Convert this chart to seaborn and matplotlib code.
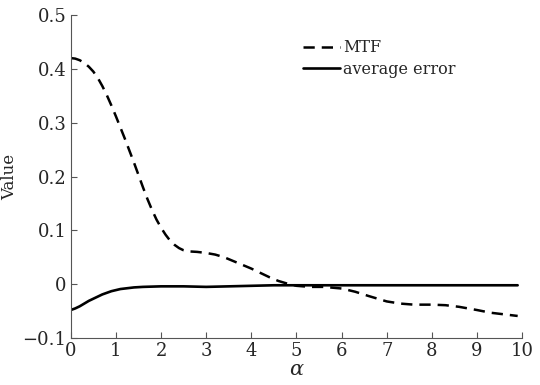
import matplotlib
matplotlib.use("Agg")
import matplotlib.pyplot as plt
import seaborn as sns

alpha_mtf = [0.0, 0.1, 0.2, 0.3, 0.4, 0.5, 0.6, 0.7, 0.8, 0.9, 1.0, 1.1, 1.2, 1.3, 1.4, 1.5,
             1.6, 1.7, 1.8, 1.9, 2.0, 2.1, 2.2, 2.3, 2.4, 2.5, 2.6, 2.8, 3.0, 3.2, 3.4,
             3.6, 3.8, 4.0, 4.2, 4.4, 4.6, 4.8, 5.0, 5.3, 5.6, 6.0, 6.3, 6.6, 7.0, 7.3,
             7.6, 8.0, 8.3, 8.6, 9.0, 9.3, 9.6, 9.9]
mtf = [0.420, 0.419, 0.416, 0.411, 0.404, 0.395, 0.383, 0.368, 0.351, 0.332, 0.312, 0.291,
       0.270, 0.248, 0.226, 0.203, 0.180, 0.158, 0.138, 0.120, 0.105, 0.092, 0.081, 0.073,
       0.067, 0.063, 0.061, 0.060, 0.058, 0.055, 0.050, 0.043, 0.036, 0.029, 0.021, 0.013,
       0.006, 0.001, -0.003, -0.005, -0.005, -0.008, -0.014, -0.022, -0.032, -0.036,
       -0.038, -0.038, -0.039, -0.042, -0.048, -0.053, -0.056, -0.059]

alpha_err = [0.0, 0.1, 0.2, 0.3, 0.4, 0.5, 0.6, 0.7, 0.8, 0.9, 1.0, 1.1, 1.2, 1.4, 1.6,
             1.8, 2.0, 2.5, 3.0, 3.5, 4.0, 4.5, 5.0, 6.0, 7.0, 8.0, 9.0, 9.9]
avg_err = [-0.048, -0.045, -0.041, -0.036, -0.031, -0.027, -0.023, -0.019, -0.016, -0.013,
           -0.011, -0.009, -0.008, -0.006, -0.005, -0.0045, -0.004, -0.004, -0.005, -0.004,
           -0.003, -0.002, -0.002, -0.002, -0.002, -0.002, -0.002, -0.002]

sns.set_style("ticks")
plt.rcParams["font.family"] = ["DejaVu Serif"]
plt.rcParams["mathtext.fontset"] = "dejavuserif"

fig = plt.figure(figsize=(5.4, 3.85), dpi=100)
ax = fig.add_axes([0.131, 0.122, 0.836, 0.839])

sns.lineplot(x=alpha_mtf, y=mtf, ax=ax, color="black", linewidth=1.8,
             linestyle=(0, (4.5, 2.8)), label="MTF")
sns.lineplot(x=alpha_err, y=avg_err, ax=ax, color="black", linewidth=1.9,
             label="average error")

ax.set_xlim(0, 10)
ax.set_ylim(-0.1, 0.5)
ax.set_xticks(range(0, 11))
ax.set_yticks([-0.1, 0, 0.1, 0.2, 0.3, 0.4, 0.5])
ax.set_yticklabels(["\u22120.1", "0", "0.1", "0.2", "0.3", "0.4", "0.5"])
ax.tick_params(direction="in", length=4, width=0.8, color="#555555", labelsize=13, pad=3)
for s in ["top", "right"]:
    ax.spines[s].set_visible(False)
for s in ["left", "bottom"]:
    ax.spines[s].set_color("#555555")
    ax.spines[s].set_linewidth(0.8)

ax.set_xlabel(r"$\alpha$", fontsize=15, labelpad=0)
ax.set_ylabel("Value", fontsize=12, labelpad=3)

leg = ax.legend(loc="upper left", bbox_to_anchor=(0.50, 0.945), frameon=False,
                fontsize=11.5, handlelength=2.3, handletextpad=0.2, labelspacing=0.3,
                borderaxespad=0)

fig.savefig("out.png", dpi=100)
